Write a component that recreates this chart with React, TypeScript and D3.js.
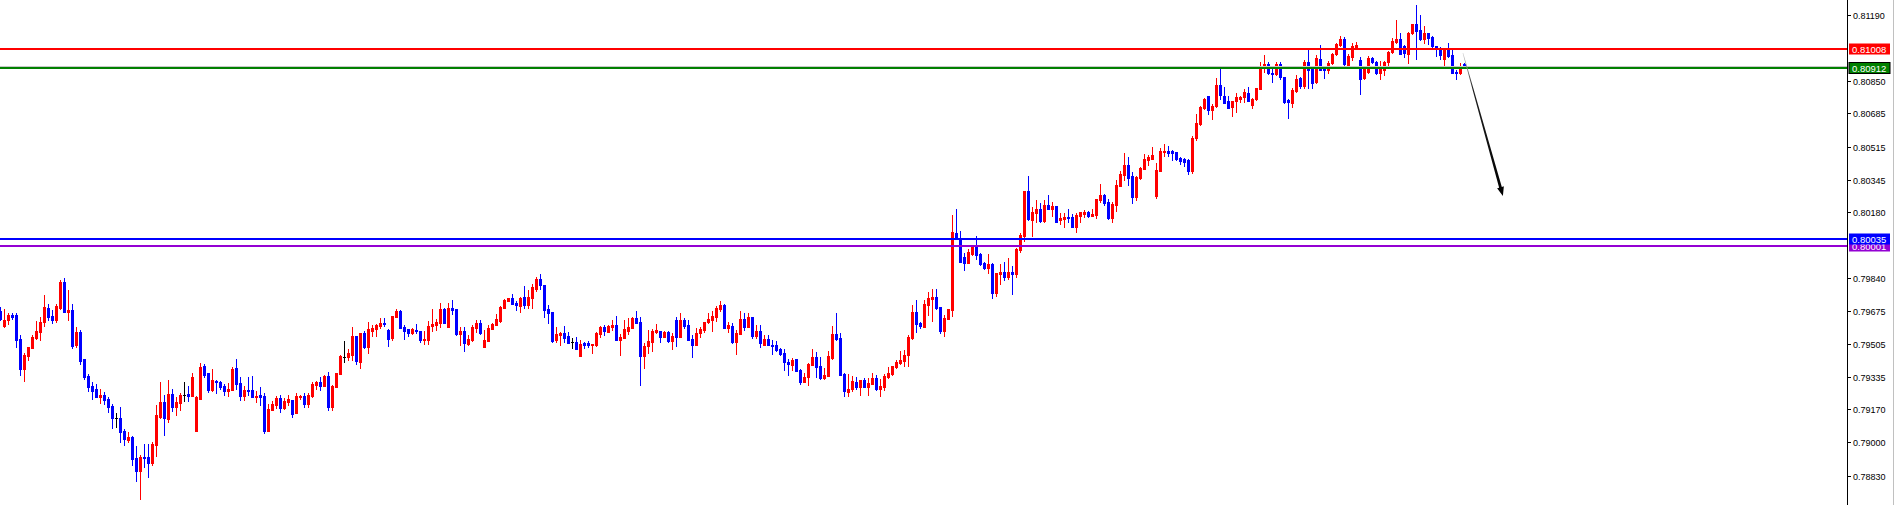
import React from "react";
import * as d3 from "d3";

// ---- DATA (prices) ----
const openP = [
0.79675,0.79598,0.79627,0.79652,0.79652,0.79529,0.79378,0.79444,0.79485,0.79536,0.79567,0.79615,0.79688,0.79647,0.79627,0.79687,0.79821,0.79669,0.79678,0.79500,
0.79567,0.79425,0.79340,0.79289,0.79273,0.79234,0.79244,0.79222,0.79188,0.79125,0.79125,0.79060,0.79014,0.79028,0.78922,0.78855,0.78924,0.78925,0.78895,0.78987,
0.79128,0.79207,0.79122,0.79248,0.79183,0.79203,0.79243,0.79248,0.79239,0.79060,0.79224,0.79391,0.79355,0.79268,0.79316,0.79309,0.79289,0.79263,0.79270,0.79381,
0.79304,0.79239,0.79268,0.79268,0.79234,0.79243,0.79238,0.79060,0.79168,0.79193,0.79227,0.79178,0.79209,0.79217,0.79152,0.79234,0.79239,0.79197,0.79239,0.79292,
0.79309,0.79289,0.79340,0.79183,0.79285,0.79352,0.79439,0.79439,0.79448,0.79545,0.79413,0.79560,0.79487,0.79572,0.79581,0.79596,0.79613,0.79576,0.79533,0.79644,
0.79673,0.79591,0.79579,0.79562,0.79577,0.79569,0.79524,0.79524,0.79594,0.79601,0.79613,0.79683,0.79593,0.79688,0.79683,0.79557,0.79570,0.79504,0.79524,0.79586,
0.79611,0.79490,0.79521,0.79581,0.79603,0.79622,0.79690,0.79724,0.79739,0.79715,0.79700,0.79745,0.79702,0.79741,0.79785,0.79837,0.79806,0.79681,0.79668,0.79524,
0.79552,0.79558,0.79545,0.79516,0.79516,0.79444,0.79507,0.79507,0.79499,0.79499,0.79555,0.79591,0.79567,0.79593,0.79601,0.79524,0.79536,0.79570,0.79586,0.79639,
0.79617,0.79442,0.79494,0.79516,0.79567,0.79570,0.79540,0.79565,0.79519,0.79627,0.79541,0.79627,0.79601,0.79529,0.79500,0.79560,0.79577,0.79617,0.79627,0.79642,
0.79683,0.79705,0.79586,0.79596,0.79514,0.79557,0.79632,0.79593,0.79642,0.79545,0.79570,0.79500,0.79529,0.79500,0.79499,0.79478,0.79456,0.79413,0.79398,0.79425,
0.79371,0.79311,0.79333,0.79395,0.79437,0.79391,0.79328,0.79342,0.79434,0.79555,0.79535,0.79349,0.79260,0.79275,0.79309,0.79285,0.79320,0.79285,0.79302,0.79330,
0.79275,0.79282,0.79333,0.79352,0.79388,0.79405,0.79417,0.79449,0.79536,0.79668,0.79611,0.79592,0.79703,0.79736,0.79746,0.79693,0.79570,0.79633,0.79678,0.80072,
0.80046,0.79949,0.79918,0.79964,0.79999,0.79964,0.79918,0.79895,0.79913,0.79763,0.79862,0.79872,0.79847,0.79872,0.79862,0.79985,0.80057,0.80287,0.80139,0.80176,
0.80195,0.80133,0.80215,0.80195,0.80210,0.80139,0.80144,0.80156,0.80156,0.80104,0.80159,0.80171,0.80181,0.80161,0.80166,0.80241,0.80267,0.80231,0.80147,0.80215,
0.80314,0.80369,0.80420,0.80364,0.80258,0.80355,0.80401,0.80446,0.80453,0.80263,0.80391,0.80489,0.80492,0.80494,0.80485,0.80458,0.80449,0.80446,0.80391,0.80560,
0.80630,0.80710,0.80772,0.80702,0.80721,0.80828,0.80774,0.80746,0.80719,0.80746,0.80758,0.80767,0.80787,0.80726,0.80758,0.80811,0.80924,0.80939,0.80893,0.80886,
0.80937,0.80869,0.80753,0.80739,0.80801,0.80864,0.80825,0.80946,0.80915,0.80843,0.80963,0.80915,0.80907,0.80941,0.80987,0.81035,0.81065,0.80934,0.80975,0.81023,
0.80958,0.80864,0.80896,0.80968,0.80949,0.80893,0.80907,0.80946,0.80997,0.81050,0.81064,0.81031,0.80989,0.81094,0.81140,0.81111,0.81067,0.81096,0.81077,0.81028,
0.81016,0.80961,0.81012,0.80982,0.80898,0.80893,0.80936];

const highP = [
0.79695,0.79683,0.79661,0.79664,0.79661,0.79550,0.79459,0.79487,0.79550,0.79622,0.79642,0.79755,0.79710,0.79678,0.79707,0.79832,0.79842,0.79780,0.79709,0.79589,
0.79574,0.79429,0.79352,0.79309,0.79301,0.79272,0.79256,0.79234,0.79197,0.79149,0.79181,0.79067,0.79053,0.79033,0.78983,0.78936,0.78994,0.78992,0.79000,0.79193,
0.79309,0.79243,0.79321,0.79273,0.79234,0.79251,0.79309,0.79289,0.79355,0.79238,0.79407,0.79403,0.79355,0.79376,0.79321,0.79313,0.79302,0.79304,0.79384,0.79427,
0.79333,0.79287,0.79333,0.79340,0.79263,0.79284,0.79255,0.79197,0.79212,0.79239,0.79244,0.79229,0.79244,0.79217,0.79251,0.79244,0.79251,0.79255,0.79311,0.79316,
0.79333,0.79345,0.79361,0.79294,0.79355,0.79446,0.79519,0.79477,0.79591,0.79545,0.79562,0.79572,0.79617,0.79599,0.79605,0.79637,0.79637,0.79579,0.79647,0.79683,
0.79678,0.79603,0.79579,0.79587,0.79606,0.79572,0.79572,0.79620,0.79683,0.79632,0.79715,0.79690,0.79712,0.79729,0.79683,0.79593,0.79591,0.79550,0.79601,0.79625,
0.79625,0.79576,0.79599,0.79611,0.79659,0.79700,0.79733,0.79741,0.79760,0.79722,0.79745,0.79799,0.79780,0.79809,0.79849,0.79862,0.79806,0.79704,0.79668,0.79593,
0.79567,0.79594,0.79564,0.79533,0.79538,0.79524,0.79512,0.79519,0.79502,0.79565,0.79594,0.79599,0.79599,0.79627,0.79647,0.79555,0.79627,0.79635,0.79644,0.79675,
0.79642,0.79511,0.79577,0.79581,0.79606,0.79572,0.79570,0.79570,0.79562,0.79642,0.79661,0.79639,0.79629,0.79552,0.79584,0.79589,0.79617,0.79664,0.79673,0.79699,
0.79724,0.79709,0.79618,0.79611,0.79577,0.79673,0.79661,0.79664,0.79642,0.79601,0.79601,0.79552,0.79548,0.79524,0.79519,0.79483,0.79478,0.79429,0.79434,0.79429,
0.79376,0.79355,0.79405,0.79477,0.79463,0.79439,0.79381,0.79470,0.79598,0.79664,0.79560,0.79354,0.79350,0.79338,0.79335,0.79320,0.79330,0.79330,0.79355,0.79347,
0.79326,0.79352,0.79386,0.79391,0.79422,0.79468,0.79473,0.79550,0.79703,0.79732,0.79618,0.79729,0.79768,0.79784,0.79784,0.79693,0.79651,0.79683,0.80166,0.80195,
0.80082,0.79970,0.79990,0.80011,0.80057,0.79970,0.79922,0.79964,0.79918,0.79867,0.79913,0.79924,0.79942,0.79903,0.79995,0.80072,0.80287,0.80364,0.80207,0.80241,
0.80224,0.80241,0.80267,0.80229,0.80212,0.80174,0.80173,0.80195,0.80169,0.80173,0.80181,0.80190,0.80185,0.80195,0.80246,0.80323,0.80273,0.80248,0.80229,0.80343,
0.80391,0.80482,0.80461,0.80386,0.80366,0.80412,0.80477,0.80471,0.80511,0.80430,0.80507,0.80526,0.80518,0.80499,0.80489,0.80461,0.80456,0.80451,0.80570,0.80681,
0.80722,0.80763,0.80772,0.80731,0.80866,0.80912,0.80821,0.80775,0.80748,0.80787,0.80774,0.80809,0.80818,0.80765,0.80816,0.80948,0.80983,0.80946,0.80920,0.80946,
0.80949,0.80869,0.80758,0.80816,0.80879,0.80872,0.80958,0.81012,0.80922,0.80983,0.81035,0.80927,0.80953,0.80995,0.81047,0.81081,0.81077,0.80989,0.81047,0.81052,
0.80972,0.80925,0.80978,0.80972,0.80953,0.80953,0.80953,0.81006,0.81072,0.81163,0.81094,0.81035,0.81101,0.81140,0.81239,0.81188,0.81132,0.81096,0.81081,0.81031,
0.81026,0.81021,0.81043,0.81012,0.80907,0.80942,0.80941];

const lowP = [
0.79627,0.79593,0.79606,0.79634,0.79490,0.79345,0.79316,0.79424,0.79485,0.79531,0.79526,0.79598,0.79627,0.79611,0.79617,0.79681,0.79669,0.79627,0.79485,0.79489,
0.79403,0.79323,0.79262,0.79224,0.79231,0.79203,0.79198,0.79156,0.79075,0.79081,0.79004,0.78988,0.79004,0.78886,0.78804,0.78712,0.78874,0.78825,0.78886,0.78932,
0.79127,0.79040,0.79105,0.79163,0.79142,0.79168,0.79212,0.79214,0.79238,0.79060,0.79221,0.79333,0.79258,0.79263,0.79255,0.79273,0.79244,0.79239,0.79268,0.79273,
0.79217,0.79217,0.79244,0.79233,0.79209,0.79193,0.79047,0.79060,0.79168,0.79178,0.79157,0.79173,0.79192,0.79132,0.79152,0.79224,0.79183,0.79183,0.79234,0.79272,
0.79268,0.79289,0.79166,0.79166,0.79282,0.79350,0.79413,0.79422,0.79422,0.79403,0.79383,0.79485,0.79459,0.79547,0.79547,0.79584,0.79598,0.79495,0.79526,0.79640,
0.79587,0.79529,0.79543,0.79553,0.79562,0.79514,0.79506,0.79504,0.79570,0.79576,0.79593,0.79610,0.79593,0.79659,0.79552,0.79499,0.79470,0.79500,0.79519,0.79567,
0.79557,0.79490,0.79521,0.79581,0.79599,0.79618,0.79690,0.79722,0.79710,0.79678,0.79668,0.79687,0.79687,0.79690,0.79777,0.79787,0.79644,0.79613,0.79514,0.79516,
0.79500,0.79512,0.79507,0.79483,0.79480,0.79444,0.79485,0.79487,0.79459,0.79495,0.79541,0.79552,0.79565,0.79576,0.79524,0.79448,0.79533,0.79555,0.79584,0.79613,
0.79294,0.79379,0.79456,0.79466,0.79558,0.79516,0.79538,0.79512,0.79478,0.79494,0.79541,0.79584,0.79524,0.79439,0.79500,0.79540,0.79567,0.79611,0.79570,0.79622,
0.79673,0.79586,0.79564,0.79507,0.79453,0.79557,0.79577,0.79593,0.79536,0.79533,0.79490,0.79500,0.79497,0.79454,0.79468,0.79448,0.79371,0.79347,0.79369,0.79367,
0.79301,0.79311,0.79296,0.79395,0.79337,0.79323,0.79325,0.79342,0.79429,0.79524,0.79347,0.79239,0.79239,0.79262,0.79272,0.79243,0.79282,0.79241,0.79299,0.79268,
0.79239,0.79268,0.79328,0.79348,0.79382,0.79403,0.79393,0.79393,0.79528,0.79567,0.79587,0.79592,0.79651,0.79623,0.79685,0.79560,0.79546,0.79632,0.79649,0.80041,
0.79924,0.79883,0.79918,0.79958,0.79939,0.79908,0.79888,0.79867,0.79741,0.79750,0.79811,0.79831,0.79835,0.79760,0.79849,0.79977,0.80031,0.80139,0.80058,0.80130,
0.80128,0.80130,0.80195,0.80161,0.80130,0.80118,0.80104,0.80130,0.80104,0.80079,0.80130,0.80156,0.80152,0.80157,0.80151,0.80232,0.80215,0.80142,0.80128,0.80186,
0.80313,0.80343,0.80318,0.80227,0.80241,0.80350,0.80400,0.80420,0.80449,0.80253,0.80391,0.80466,0.80466,0.80446,0.80446,0.80424,0.80415,0.80376,0.80380,0.80550,
0.80625,0.80707,0.80680,0.80654,0.80715,0.80760,0.80736,0.80710,0.80671,0.80693,0.80745,0.80743,0.80746,0.80710,0.80755,0.80808,0.80898,0.80888,0.80847,0.80883,
0.80859,0.80736,0.80663,0.80719,0.80792,0.80814,0.80813,0.80813,0.80813,0.80838,0.80905,0.80867,0.80893,0.80937,0.80985,0.81030,0.80932,0.80929,0.80958,0.81018,
0.80785,0.80859,0.80893,0.80942,0.80886,0.80859,0.80881,0.80924,0.80992,0.81043,0.80987,0.80975,0.80944,0.81091,0.80961,0.81060,0.81047,0.81041,0.81023,0.80980,
0.80961,0.80927,0.80975,0.80890,0.80862,0.80886,0.80924];

const closeP = [
0.79634,0.79627,0.79651,0.79644,0.79524,0.79378,0.79448,0.79487,0.79541,0.79570,0.79617,0.79693,0.79644,0.79627,0.79699,0.79821,0.79669,0.79678,0.79495,0.79567,
0.79419,0.79337,0.79285,0.79265,0.79234,0.79244,0.79219,0.79183,0.79127,0.79125,0.79055,0.79019,0.79028,0.78917,0.78855,0.78924,0.78919,0.78895,0.78994,0.79140,
0.79207,0.79125,0.79248,0.79183,0.79207,0.79244,0.79243,0.79239,0.79335,0.79234,0.79386,0.79345,0.79268,0.79320,0.79309,0.79284,0.79263,0.79273,0.79376,0.79301,
0.79239,0.79268,0.79265,0.79234,0.79239,0.79234,0.79060,0.79171,0.79197,0.79229,0.79178,0.79212,0.79222,0.79147,0.79238,0.79239,0.79197,0.79244,0.79299,0.79309,
0.79289,0.79340,0.79183,0.79289,0.79355,0.79442,0.79439,0.79456,0.79545,0.79417,0.79562,0.79490,0.79582,0.79586,0.79601,0.79613,0.79605,0.79529,0.79647,0.79673,
0.79587,0.79572,0.79562,0.79581,0.79569,0.79524,0.79529,0.79596,0.79606,0.79617,0.79683,0.79613,0.79688,0.79678,0.79557,0.79570,0.79507,0.79529,0.79593,0.79611,
0.79560,0.79524,0.79586,0.79608,0.79632,0.79695,0.79729,0.79739,0.79710,0.79704,0.79739,0.79704,0.79745,0.79797,0.79837,0.79806,0.79680,0.79664,0.79519,0.79555,
0.79562,0.79536,0.79511,0.79516,0.79480,0.79504,0.79500,0.79500,0.79502,0.79562,0.79591,0.79572,0.79594,0.79601,0.79524,0.79540,0.79579,0.79591,0.79639,0.79613,
0.79442,0.79494,0.79519,0.79572,0.79577,0.79540,0.79565,0.79519,0.79545,0.79541,0.79627,0.79596,0.79524,0.79500,0.79562,0.79581,0.79617,0.79632,0.79647,0.79688,
0.79704,0.79586,0.79601,0.79514,0.79562,0.79632,0.79593,0.79642,0.79545,0.79572,0.79507,0.79529,0.79497,0.79495,0.79473,0.79451,0.79412,0.79400,0.79422,0.79367,
0.79311,0.79335,0.79400,0.79437,0.79388,0.79332,0.79345,0.79442,0.79555,0.79531,0.79347,0.79262,0.79273,0.79314,0.79285,0.79320,0.79285,0.79304,0.79330,0.79275,
0.79289,0.79340,0.79355,0.79391,0.79412,0.79423,0.79449,0.79540,0.79668,0.79608,0.79596,0.79709,0.79739,0.79746,0.79688,0.79570,0.79637,0.79683,0.80077,0.80046,
0.79924,0.79918,0.79975,0.79999,0.79959,0.79913,0.79893,0.79913,0.79767,0.79866,0.79872,0.79847,0.79872,0.79862,0.79988,0.80062,0.80287,0.80144,0.80180,0.80195,
0.80135,0.80215,0.80197,0.80210,0.80130,0.80149,0.80156,0.80151,0.80104,0.80164,0.80178,0.80181,0.80159,0.80171,0.80246,0.80267,0.80224,0.80147,0.80220,0.80318,
0.80374,0.80420,0.80355,0.80258,0.80361,0.80407,0.80451,0.80463,0.80471,0.80395,0.80492,0.80494,0.80483,0.80483,0.80451,0.80442,0.80437,0.80391,0.80560,0.80634,
0.80715,0.80760,0.80702,0.80724,0.80828,0.80777,0.80739,0.80714,0.80746,0.80767,0.80770,0.80796,0.80750,0.80758,0.80813,0.80927,0.80939,0.80891,0.80886,0.80937,
0.80869,0.80745,0.80745,0.80804,0.80862,0.80826,0.80949,0.80907,0.80842,0.80966,0.80905,0.80907,0.80944,0.80990,0.81038,0.81065,0.80937,0.80980,0.81030,0.81036,
0.80861,0.80912,0.80966,0.80946,0.80893,0.80913,0.80949,0.81000,0.81055,0.81064,0.80990,0.80992,0.81096,0.81140,0.81108,0.81065,0.81096,0.81072,0.81028,0.81012,
0.80983,0.81014,0.80978,0.80893,0.80893,0.80924,0.80927];

const tickLabels = ["0.81190","0.80850","0.80685","0.80515","0.80345","0.80180","0.79840","0.79675","0.79505","0.79335","0.79170","0.79000","0.78830"];

const levelPrices = [0.80001, 0.80035, 0.80912, 0.81008];
const levelColors = ["#9400D3", "#0000FF", "#008000", "#FF0000"];

const arrowFrom = { bar: 365.6, price: 0.80994 };
const arrowTo = { bar: 375.6, price: 0.80262 };

const W = 1894, H = 505;
const AXIS_X = 1847.5;

export default function App() {
  const x = d3.scaleLinear().domain([0, 366]).range([0.5, 1464.5]);
  const y = d3.scaleLinear().domain([0.7883, 0.8119]).range([475.7, 14.7]);

  const candles = openP.map((o, i) => {
    const c = closeP[i], h = highP[i], l = lowP[i];
    const col = c > o ? "#FF0000" : c < o ? "#0000FF" : "#000000";
    const cx = Math.round(x(i) - 0.5);
    const yTop = Math.round(y(Math.max(o, c)));
    const yBot = Math.round(y(Math.min(o, c)));
    const yh = Math.round(y(h));
    const yl = Math.round(y(l));
    return (
      <g key={i} fill={col}>
        <rect x={cx} y={yh} width={1} height={Math.max(1, yl - yh + 1)} />
        <rect x={cx - 1} y={yTop} width={3} height={Math.max(1, yBot - yTop + 1)} />
      </g>
    );
  });

  const ax0 = x(arrowFrom.bar), ay0 = y(arrowFrom.price);
  const ax1 = x(arrowTo.bar), ay1 = y(arrowTo.price);
  const dx = ax1 - ax0, dy = ay1 - ay0;
  const len = Math.hypot(dx, dy);
  const ux = dx / len, uy = dy / len;
  const px = -uy, py = ux;
  const headLen = 9, headW = 3.5;
  const bx = ax1 - ux * headLen, by = ay1 - uy * headLen;
  const w0 = 0.3, w1 = 1.4;
  const shaft = [
    [ax0 + px * w0, ay0 + py * w0],
    [bx + px * w1, by + py * w1],
    [bx + px * headW, by + py * headW],
    [ax1, ay1],
    [bx - px * headW, by - py * headW],
    [bx - px * w1, by - py * w1],
    [ax0 - px * w0, ay0 - py * w0],
  ];
  const shaftPath = "M" + shaft.map((p) => p[0].toFixed(2) + "," + p[1].toFixed(2)).join("L") + "Z";

  return (
    <svg width={W} height={H} style={{ position: "absolute", left: 0, top: 0, background: "#fff" }}
      fontFamily="'Liberation Sans', Arial, sans-serif">
      <defs>
        <linearGradient id="arrowGrad" gradientUnits="userSpaceOnUse" x1={ax0} y1={ay0} x2={ax1} y2={ay1}>
          <stop offset="0" stopColor="#d0d0d0" />
          <stop offset="0.25" stopColor="#202020" />
          <stop offset="1" stopColor="#000" />
        </linearGradient>
      </defs>
      <rect x={0} y={0} width={W} height={H} fill="#fff" />
      {candles}
      {/* horizontal levels */}
      <rect x={0} y={Math.round(y(0.80912)) - 3} width={AXIS_X} height={1} fill="#c8c8c8" />
      {levelPrices.map((p, i) => (
        <rect key={"l" + i} x={0} y={Math.round(y(p)) - 2} width={AXIS_X} height={2} fill={levelColors[i]} />
      ))}
      <path d={shaftPath} fill="url(#arrowGrad)" />
      {/* axis */}
      <rect x={1847} y={0} width={1} height={H} fill="#000" />
      <rect x={1893} y={0} width={1} height={H} fill="#c0c0c0" />
      {tickLabels.map((t) => {
        const ty = Math.round(y(+t));
        return (
          <g key={t}>
            <rect x={1848} y={ty} width={3} height={1} fill="#000" />
            <text x={1853} y={ty + 0.5} dominantBaseline="central" fontSize={9} fill="#000">{t}</text>
          </g>
        );
      })}
      {levelPrices.map((p, i) => {
        const cy = Math.round(y(p)) - 1;
        return (
          <g key={"b" + i}>
            <rect x={1849} y={cy - 5.5} width={41} height={11} fill={levelColors[i]}
              stroke={i === 2 ? "#000" : "none"} strokeWidth={i === 2 ? 1 : 0} />
            <text x={1852} y={cy + 0.5} dominantBaseline="central" fontSize={9.5} fill="#fff">{p.toFixed(5)}</text>
          </g>
        );
      })}
    </svg>
  );
}
